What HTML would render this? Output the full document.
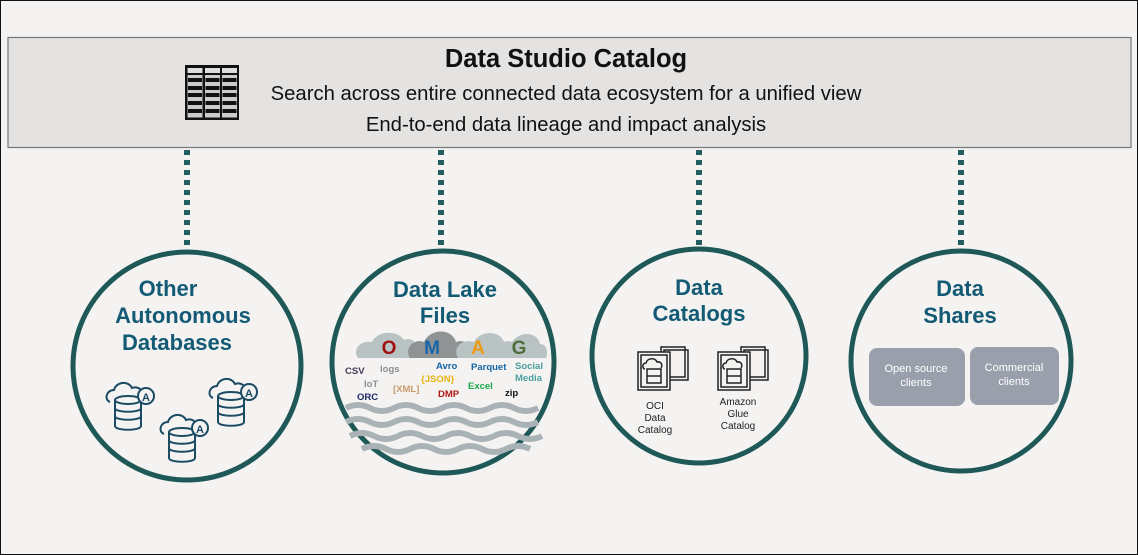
<!DOCTYPE html>
<html><head><meta charset="utf-8"><style>
body{margin:0;width:1138px;height:555px;overflow:hidden;background:#f4f3f1;font-family:"Liberation Sans",sans-serif;}
svg{display:block}
</style></head><body>
<svg width="1138" height="555" viewBox="0 0 1138 555" xmlns="http://www.w3.org/2000/svg" font-family="Liberation Sans, sans-serif">
<rect x="0.5" y="0.5" width="1137" height="554" fill="#f4f3f1" stroke="#111" stroke-width="1"/>
<rect x="8" y="37.5" width="1123" height="110" fill="#e5e3e1" stroke="#777" stroke-width="1.2"/>
<!-- table icon -->
<g>
<rect x="185" y="65" width="54" height="55" fill="#111"/>
<g fill="#ddd">
<rect x="187.5" y="68" width="15" height="5"/><rect x="205" y="68" width="15" height="5"/><rect x="222" y="68" width="15" height="5"/>
</g>
<g fill="#ccc">
<rect x="187.5" y="75" width="15" height="42.5"/><rect x="205" y="75" width="15" height="42.5"/><rect x="222" y="75" width="15" height="42.5"/>
</g>
<g fill="#111">
<rect x="188" y="78" width="14" height="4"/><rect x="205.5" y="78" width="14" height="4"/><rect x="222.5" y="78" width="14" height="4"/>
<rect x="188" y="86" width="14" height="4"/><rect x="205.5" y="86" width="14" height="4"/><rect x="222.5" y="86" width="14" height="4"/>
<rect x="188" y="93" width="14" height="4"/><rect x="205.5" y="93" width="14" height="4"/><rect x="222.5" y="93" width="14" height="4"/>
<rect x="188" y="101" width="14" height="4"/><rect x="205.5" y="101" width="14" height="4"/><rect x="222.5" y="101" width="14" height="4"/>
<rect x="188" y="109" width="14" height="4"/><rect x="205.5" y="109" width="14" height="4"/><rect x="222.5" y="109" width="14" height="4"/>
</g>
</g>
<text x="566" y="67" text-anchor="middle" font-size="25.5" font-weight="bold" fill="#111">Data Studio Catalog</text>
<text x="566" y="100" text-anchor="middle" font-size="20.3" fill="#111">Search across entire connected data ecosystem for a unified view</text>
<text x="566" y="131" text-anchor="middle" font-size="20.3" fill="#111">End-to-end data lineage and impact analysis</text>
<!-- connectors -->
<g stroke="#235f60" stroke-width="6" stroke-dasharray="5 5">
<line x1="187" y1="150" x2="187" y2="251"/>
<line x1="441" y1="150" x2="441" y2="251"/>
<line x1="699" y1="150" x2="699" y2="251"/>
<line x1="961" y1="150" x2="961" y2="251"/>
</g>
<!-- circles -->
<g fill="#f4f3f1" stroke="#1e5857" stroke-width="5">
<circle cx="187" cy="366" r="114"/>
<circle cx="443" cy="362" r="111"/>
<circle cx="699" cy="356" r="107"/>
<circle cx="961" cy="361" r="110"/>
</g>
<g font-weight="bold" fill="#135a75" text-anchor="middle" font-size="22">
<text x="168" y="296">Other</text>
<text x="183" y="323">Autonomous</text>
<text x="177" y="350">Databases</text>
<text x="445" y="297">Data Lake</text>
<text x="445" y="323">Files</text>
<text x="699" y="295">Data</text>
<text x="699" y="321">Catalogs</text>
<text x="960" y="296">Data</text>
<text x="960" y="323">Shares</text>
</g>
<!-- db icons -->
<g fill="none" stroke="#1b4a63" stroke-width="2">
<g transform="translate(108,380)">
<path d="M2 22 C-4 20 -2 10 6 10 C8 2 20 0 24 8 C30 6 36 10 34 16"/>
<ellipse cx="20" cy="20" rx="13" ry="4"/><path d="M7 20v26M33 20v26M7 28c0 5 26 5 26 0M7 36c0 5 26 5 26 0M7 46c0 5 26 5 26 0"/>
<circle cx="38" cy="16" r="8" fill="#f4f3f1"/><text x="38" y="21" font-size="11" font-weight="bold" text-anchor="middle" fill="#1b4a63" stroke="none">A</text>
</g>
<g transform="translate(162,412)">
<path d="M2 22 C-4 20 -2 10 6 10 C8 2 20 0 24 8 C30 6 36 10 34 16"/>
<ellipse cx="20" cy="20" rx="13" ry="4"/><path d="M7 20v26M33 20v26M7 28c0 5 26 5 26 0M7 36c0 5 26 5 26 0M7 46c0 5 26 5 26 0"/>
<circle cx="38" cy="16" r="8" fill="#f4f3f1"/><text x="38" y="21" font-size="11" font-weight="bold" text-anchor="middle" fill="#1b4a63" stroke="none">A</text>
</g>
<g transform="translate(211,376)">
<path d="M2 22 C-4 20 -2 10 6 10 C8 2 20 0 24 8 C30 6 36 10 34 16"/>
<ellipse cx="20" cy="20" rx="13" ry="4"/><path d="M7 20v26M33 20v26M7 28c0 5 26 5 26 0M7 36c0 5 26 5 26 0M7 46c0 5 26 5 26 0"/>
<circle cx="38" cy="16" r="8" fill="#f4f3f1"/><text x="38" y="21" font-size="11" font-weight="bold" text-anchor="middle" fill="#1b4a63" stroke="none">A</text>
</g>
</g>
<!-- data lake clouds -->
<g>
<path d="M358 358 C352 350 360 340 372 342 C378 330 398 330 404 340 C412 336 420 344 418 358Z" fill="#b9c3c3"/>
<path d="M410 358 C404 348 414 338 424 342 C430 328 452 328 456 342 C466 338 474 348 470 358Z" fill="#8f9393"/>
<path d="M458 358 C452 348 462 338 474 342 C480 330 500 330 504 342 C514 338 520 348 516 358Z" fill="#b9c3c3"/>
<path d="M500 358 C496 348 504 340 512 342 C520 330 538 332 540 344 C548 344 548 354 546 358Z" fill="#b9c3c3"/>
</g>
<g font-weight="bold" font-size="19" text-anchor="middle">
<text x="389" y="354" fill="#a01010">O</text>
<text x="432" y="354" fill="#1565a8">M</text>
<text x="478" y="354" fill="#ef9a14">A</text>
<text x="519" y="354" fill="#4e6e3c">G</text>
</g>
<g font-weight="bold" font-size="9.5">
<text x="345" y="374" fill="#4a3a5a">CSV</text>
<text x="380" y="372" fill="#8a9090">logs</text>
<text x="364" y="387" fill="#8a9090">IoT</text>
<text x="357" y="400" fill="#1b2a6a">ORC</text>
<text x="393" y="392" fill="#c89a6a">[XML]</text>
<text x="436" y="369" fill="#1565a8">Avro</text>
<text x="421" y="382" fill="#e6b410">{JSON}</text>
<text x="438" y="397" fill="#b01818">DMP</text>
<text x="471" y="370" fill="#1565a8">Parquet</text>
<text x="468" y="389" fill="#1aa848">Excel</text>
<text x="505" y="396" fill="#111">zip</text>
<text x="515" y="369" fill="#4aa0a0">Social</text>
<text x="515" y="381" fill="#4aa0a0">Media</text>
</g>
<g fill="none" stroke="#a9b3b6" stroke-width="6">
<path d="M346 408 q12 -6 24 0 t24 0 t24 0 t24 0 t24 0 t24 0 t24 0 t24 0"/>
<path d="M346 422 q12 -6 24 0 t24 0 t24 0 t24 0 t24 0 t24 0 t24 0 t24 0"/>
<path d="M350 436 q12 -6 24 0 t24 0 t24 0 t24 0 t24 0 t24 0 t24 0 t24 0"/>
<path d="M362 449 q12 -6 24 0 t24 0 t24 0 t24 0 t24 0 t24 0 t24 0"/>
</g>
<!-- catalog icons -->
<g fill="#f4f3f1" stroke="#222" stroke-width="1.5">
<g transform="translate(638,347)">
<rect x="23" y="0" width="24" height="30"/><rect x="26" y="3" width="24" height="30" fill="none"/>
<rect x="0" y="5" width="32" height="38"/><rect x="3" y="8" width="26" height="32"/>
<path d="M7 22c-3 0-3-6 1-6c1-5 9-6 11-1c4-1 6 3 4 6"/>
<rect x="9" y="22" width="14" height="14"/><line x1="9" y1="29" x2="23" y2="29"/>
</g>
<g transform="translate(718,347)">
<rect x="23" y="0" width="24" height="30"/><rect x="26" y="3" width="24" height="30" fill="none"/>
<rect x="0" y="5" width="32" height="38"/><rect x="3" y="8" width="26" height="32"/>
<path d="M7 22c-3 0-3-6 1-6c1-5 9-6 11-1c4-1 6 3 4 6"/>
<rect x="9" y="22" width="14" height="14"/><line x1="9" y1="29" x2="23" y2="29"/>
</g>
</g>
<g font-size="10" fill="#222" text-anchor="middle">
<text x="655" y="409">OCI</text><text x="655" y="421">Data</text><text x="655" y="433">Catalog</text>
<text x="738" y="405">Amazon</text><text x="738" y="417">Glue</text><text x="738" y="429">Catalog</text>
</g>
<!-- share boxes -->
<rect x="869" y="348" width="96" height="58" rx="8" fill="#9aa0ab"/>
<rect x="970" y="347" width="89" height="58" rx="8" fill="#9aa0ab"/>
<g font-size="11" fill="#fff" text-anchor="middle">
<text x="916" y="372">Open source</text><text x="916" y="386">clients</text>
<text x="1014" y="371">Commercial</text><text x="1014" y="385">clients</text>
</g>
</svg>
</body></html>
